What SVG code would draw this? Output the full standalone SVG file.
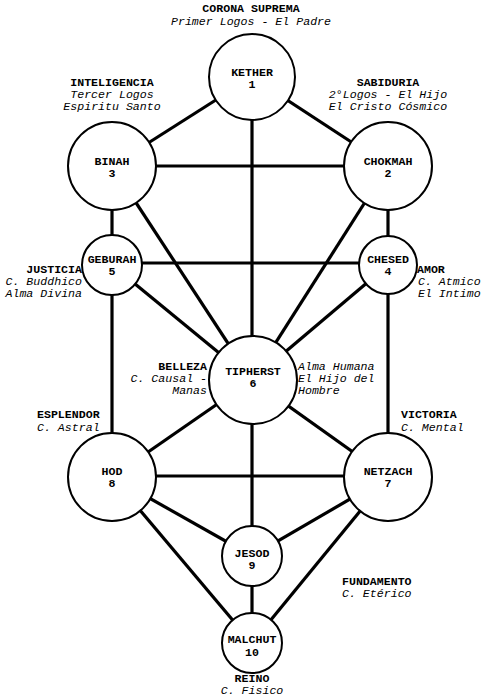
<svg xmlns="http://www.w3.org/2000/svg" width="500" height="700" viewBox="0 0 500 700">
<style>
text{font-family:"Liberation Mono","Courier New",monospace;font-size:11.6px;fill:#000}
.b{font-weight:bold}
.i{font-style:italic}
.m{text-anchor:middle}
.e{text-anchor:end}
.n{fill:#fff;stroke:#000;stroke-width:2}
#connectors line{stroke:#000;stroke-width:3.2}
</style>
<rect width="500" height="700" fill="#fff"/>
<g id="connectors">
<line x1="252" y1="77" x2="112" y2="166"/>
<line x1="252" y1="77" x2="388" y2="166"/>
<line x1="252" y1="77" x2="252" y2="380"/>
<line x1="112" y1="166" x2="388" y2="166"/>
<line x1="112" y1="166" x2="112" y2="265"/>
<line x1="388" y1="166" x2="388" y2="265"/>
<line x1="112" y1="166" x2="252" y2="380"/>
<line x1="388" y1="166" x2="252" y2="380"/>
<line x1="112" y1="263" x2="388" y2="263"/>
<line x1="112" y1="265" x2="252" y2="380"/>
<line x1="388" y1="265" x2="252" y2="380"/>
<line x1="112" y1="265" x2="112" y2="477"/>
<line x1="388" y1="265" x2="388" y2="477"/>
<line x1="252" y1="380" x2="112" y2="477"/>
<line x1="252" y1="380" x2="388" y2="477"/>
<line x1="252" y1="380" x2="252" y2="556"/>
<line x1="112" y1="476" x2="388" y2="476"/>
<line x1="112" y1="477" x2="252" y2="556"/>
<line x1="388" y1="477" x2="252" y2="556"/>
<line x1="112" y1="477" x2="252" y2="643"/>
<line x1="388" y1="477" x2="252" y2="643"/>
<line x1="252" y1="556" x2="252" y2="643"/>
</g>
<g id="kether"><circle class="n" cx="252" cy="77" r="43"/><text class="b m" x="252" y="76">KETHER</text><text class="b m" x="252" y="88">1</text></g>
<g id="binah"><circle class="n" cx="112" cy="166" r="44"/><text class="b m" x="112" y="165">BINAH</text><text class="b m" x="112" y="177">3</text></g>
<g id="chokmah"><circle class="n" cx="388" cy="166" r="44"/><text class="b m" x="388" y="165">CHOKMAH</text><text class="b m" x="388" y="177">2</text></g>
<g id="geburah"><circle class="n" cx="112" cy="265" r="30"/><text class="b m" x="112" y="263">GEBURAH</text><text class="b m" x="112" y="275">5</text></g>
<g id="chesed"><circle class="n" cx="388" cy="265" r="29"/><text class="b m" x="388" y="263">CHESED</text><text class="b m" x="388" y="275">4</text></g>
<g id="tiphereth"><circle class="n" cx="253" cy="380" r="44"/><text class="b m" x="253" y="375">TIPHERST</text><text class="b m" x="253" y="387">6</text></g>
<g id="hod"><circle class="n" cx="112" cy="477" r="44"/><text class="b m" x="112" y="475">HOD</text><text class="b m" x="112" y="487">8</text></g>
<g id="netzach"><circle class="n" cx="388" cy="477" r="44"/><text class="b m" x="388" y="475">NETZACH</text><text class="b m" x="388" y="487">7</text></g>
<g id="jesod"><circle class="n" cx="252" cy="556" r="30"/><text class="b m" x="252" y="557">JESOD</text><text class="b m" x="252" y="569">9</text></g>
<g id="malchut"><circle class="n" cx="252" cy="643" r="30"/><text class="b m" x="252" y="643">MALCHUT</text><text class="b m" x="252" y="656">10</text></g>
<g id="labels">
<text class="b m" x="251" y="12">CORONA SUPREMA</text>
<text class="i m" x="251" y="25">Primer Logos - El Padre</text>
<text class="b m" x="112" y="86">INTELIGENCIA</text>
<text class="i m" x="112" y="98">Tercer Logos</text>
<text class="i m" x="112" y="110">Espiritu Santo</text>
<text class="b m" x="388" y="86">SABIDURIA</text>
<text class="i m" x="388" y="98">2°Logos - El Hijo</text>
<text class="i m" x="388" y="110">El Cristo Cósmico</text>
<text class="b e" x="82" y="273">JUSTICIA</text>
<text class="i e" x="82" y="285">C. Buddhico</text>
<text class="i e" x="82" y="297">Alma Divina</text>
<text class="b" x="417" y="273">AMOR</text>
<text class="i" x="418" y="285">C. Atmico</text>
<text class="i" x="418" y="297">El Intimo</text>
<text class="b e" x="207" y="370">BELLEZA</text>
<text class="i e" x="207" y="382">C. Causal -</text>
<text class="i e" x="207" y="394">Manas</text>
<text class="i" x="298" y="370">Alma Humana</text>
<text class="i" x="298" y="382">El Hijo del</text>
<text class="i" x="298" y="394">Hombre</text>
<text class="b" x="37" y="418">ESPLENDOR</text>
<text class="i" x="37" y="431">C. Astral</text>
<text class="b" x="401" y="418">VICTORIA</text>
<text class="i" x="401" y="431">C. Mental</text>
<text class="b" x="342" y="585">FUNDAMENTO</text>
<text class="i" x="342" y="597">C. Etérico</text>
<text class="b m" x="252" y="682">REINO</text>
<text class="i m" x="252" y="694">C. Fisico</text>
</g>
</svg>
